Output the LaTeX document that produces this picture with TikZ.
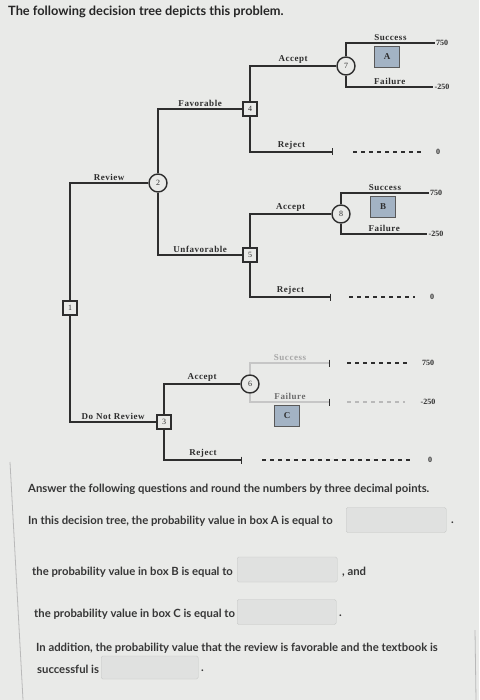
\documentclass[tikz,border=0pt]{standalone}
\usepackage{fontspec}
\setmainfont{Liberation Serif}
\newfontfamily\treefont[LetterSpace=6]{Liberation Serif}
\newfontfamily\uifont{Lato}
\usetikzlibrary{arrows.meta}

\definecolor{treeline}{HTML}{2E2E2E}
\definecolor{boxfill}{HTML}{A3B3C4}
\definecolor{ansfill}{HTML}{E0E1E0}
\definecolor{ansline}{HTML}{C4C6C4}
\definecolor{uitext}{HTML}{363636}
\definecolor{pagebg}{HTML}{E9EAE8}

\begin{document}
\begin{tikzpicture}[x=1pt, y=-1pt,
	every node/.style={font=\treefont\fontsize{9}{10}\selectfont\bfseries, text=treeline, inner sep=1pt},
	branch/.style={draw=treeline, line width=1.4pt},
	faint/.style={draw=gray!45, line width=1.2pt},
	endbar/.style={-{Bar[width=7pt, line width=1.4pt, color=treeline]}},
	decision/.style={draw=treeline, line width=1.4pt, fill=pagebg, minimum size=14pt, inner sep=0pt, font=\fontsize{8}{8}\selectfont},
	chance/.style={draw=treeline, circle, line width=1.4pt, fill=pagebg, minimum size=18pt, inner sep=0pt, font=\fontsize{8}{8}\selectfont},
	lbl/.style={above=1pt, pos=0.75},
	payoff/.style={inner sep=1pt, font=\fontsize{8}{9}\selectfont\bfseries},
	dashline/.style={draw=treeline, line width=1.1pt, dash pattern=on 4pt off 4pt, shorten >=14pt},
	probbox/.style={draw=gray!70!black, fill=boxfill, line width=0.8pt, minimum width=25pt, minimum height=21pt},
	ansbox/.style={draw=ansline, fill=ansfill, rounded corners=1.5pt, minimum width=100pt, minimum height=25pt, inner sep=0pt, anchor=west},
	qtext/.style={font=\uifont\bfseries\fontsize{11.3}{13}\selectfont, text=uitext, anchor=west, inner sep=0pt}]
	\useasboundingbox (0,0) rectangle (479,700);
	\fill[pagebg] (0,0) rectangle (479,700);
	\draw[gray!55, line width=0.8pt] (10,462) -- (23,700);
	\draw[gray!55, line width=0.8pt] (475,630) -- (476,700);

	\node[font=\uifont\bfseries\fontsize{12.8}{15}\selectfont, text=black!85, anchor=west, inner sep=0pt] (title) at (8,12) {The following decision tree depicts this problem.};

	% decision and chance nodes
	\node[decision] (n1) at (70,308) {1};
	\node[chance] (n2) at (158,183) {2};
	\node[decision] (n3) at (164,422) {3};
	\node[decision] (n4) at (250,109) {4};
	\node[decision] (n5) at (250,255) {5};
	\node[chance] (n6) at (250,384) {6};
	\node[chance] (n7) at (346,66) {7};
	\node[chance] (n8) at (341,214) {8};

	% payoffs
	\node[payoff] (v7s) at (442,43) {750};
	\node[payoff] (v7f) at (442,87) {-250};
	\node[payoff] (v4r) at (438,152) {0};
	\node[payoff] (v8s) at (436,193) {750};
	\node[payoff] (v8f) at (436,234) {-250};
	\node[payoff] (v5r) at (432,297) {0};
	\node[payoff] (v6s) at (428,363) {750};
	\node[payoff] (v6f) at (428,402) {-250};
	\node[payoff] (v3r) at (430,460) {0};

	\coordinate (r4) at (333,152);
	\coordinate (r5) at (331,297);
	\coordinate (r3) at (242,460);
	\coordinate (s6) at (330,363);
	\coordinate (f6) at (330,402);

	\draw[branch] (n1) |- node[lbl]{Review} (n2);
	\draw[branch] (n1) |- node[lbl]{Do Not Review} (n3);
	\draw[branch] (n2) |- node[lbl]{Favorable} (n4);
	\draw[branch] (n2) |- node[lbl]{Unfavorable} (n5);
	\draw[branch] (n4) |- node[lbl]{Accept} (n7);
	\draw[branch, endbar] (n4) |- node[lbl]{Reject} (r4);
	\draw[branch] (n5) |- node[lbl]{Accept} (n8);
	\draw[branch, endbar] (n5) |- node[lbl]{Reject} (r5);
	\draw[branch] (n3) |- node[lbl]{Accept} (n6);
	\draw[branch, endbar] (n3) |- node[lbl]{Reject} (r3);

	\draw[branch] (n7) |- node[lbl]{Success} (v7s);
	\draw[branch] (n7) |- node[lbl]{Failure} (v7f);
	\draw[branch] (n8) |- node[lbl]{Success} (v8s);
	\draw[branch] (n8) |- node[lbl]{Failure} (v8f);
	\draw[faint, endbar] (n6) |- node[lbl, text=gray!70]{Success} (s6);
	\draw[faint, endbar] (n6) |- node[lbl, text=gray!85!black]{Failure} (f6);

	% dashed runs to the payoffs
	\draw[dashline] (353,152) -- (v4r);
	\draw[dashline] (349,297) -- (v5r);
	\draw[dashline] (347,363) -- (v6s);
	\draw[dashline, draw=gray!55] (347,402) -- (v6f);
	\draw[dashline] (262,460) -- (v3r);

	% probability boxes
	\node[probbox] (pA) at (387,57) {A};
	\node[probbox] (pB) at (383,207) {B};
	\node[probbox] (pC) at (287,416) {C};

	% questions
	\node[qtext] (q0) at (28,489) {Answer the following questions and round the numbers by three decimal points.};
	\node[qtext] (q1) at (28,521) {In this decision tree, the probability value in box A is equal to};
	\node[ansbox] (a1) at (346,520) {};
	\node[qtext] (e1) at (451,523) {.};
	\node[qtext] (q2) at (32,572) {the probability value in box B is equal to};
	\node[ansbox] (a2) at (237,569.5) {};
	\node[qtext] (e2) at (342,572) {, and};
	\node[qtext] (q3) at (34,614) {the probability value in box C is equal to};
	\node[ansbox, minimum width=99pt] (a3) at (237,612) {};
	\node[qtext] (e3) at (339,616) {.};
	\node[qtext] (q4) at (36,648) {In addition, the probability value that the review is favorable and the textbook is};
	\node[qtext] (q5) at (37,669) {successful is};
	\node[ansbox, minimum width=97pt, minimum height=23pt] (a5) at (101,667.5) {};
	\node[qtext] (e5) at (201,671) {.};
\end{tikzpicture}
\end{document}
